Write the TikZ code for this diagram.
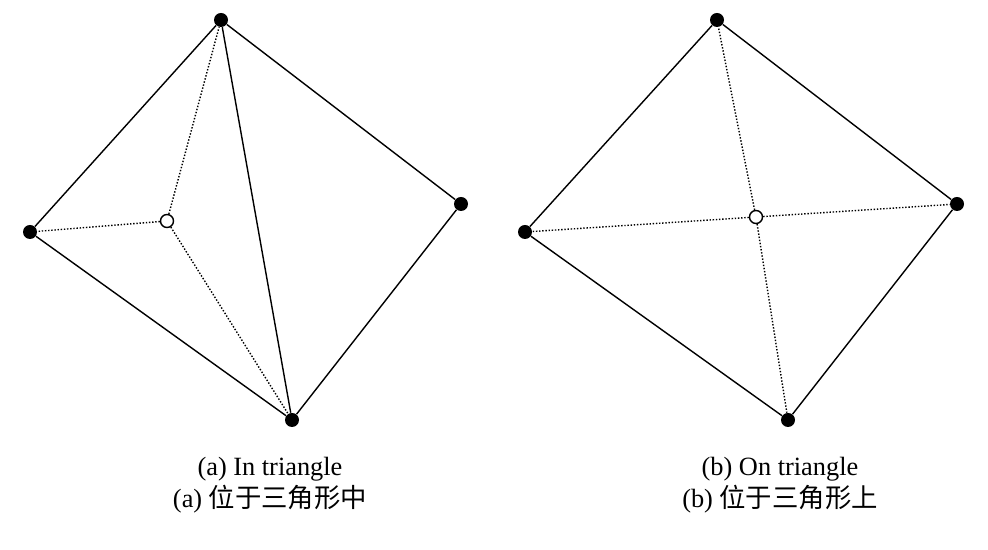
\documentclass[tikz,border=0pt]{standalone}
\usepackage{fontspec}
\setmainfont{Liberation Serif}
\newfontfamily\cjk{Noto Sans CJK SC}
\usetikzlibrary{positioning}
\begin{document}
\begin{tikzpicture}[
		vtx/.style={circle,fill=black,inner sep=0pt,minimum size=2.8mm},
		newvtx/.style={circle,draw=black,fill=white,thick,inner sep=0pt,minimum size=2.6mm},
		edgeline/.style={line width=0.8pt},
		dotline/.style={densely dotted,line width=0.8pt},
		caption/.style={font=\fontsize{15}{18}\selectfont,align=center}
	]
		\useasboundingbox (0,0) rectangle (19.76,11);
		% (a) in triangle
		\node[vtx] (at) at (4.42,10.6) {};
		\node[vtx] (al) at (0.6,6.36) {};
		\node[vtx] (ar) at (9.22,6.92) {};
		\node[vtx] (ab) at (5.84,2.6) {};
		\node[newvtx] (ap) at (3.34,6.58) {};
		\draw[edgeline] (at) -- (al) -- (ab) -- (ar) -- (at) -- (ab);
		\draw[dotline] (ap) -- (at) (ap) -- (al) (ap) -- (ab);
		\node[caption] (acap) at (5.4,1.3) {(a) In triangle\\(a) {\cjk 位于三角形中}};
		% (b) on triangle
		\node[vtx] (bt) at (14.34,10.6) {};
		\node[vtx] (bl) at (10.5,6.36) {};
		\node[vtx] (br) at (19.14,6.92) {};
		\node[vtx] (bb) at (15.76,2.6) {};
		\node[newvtx] (bp) at (15.12,6.66) {};
		\draw[edgeline] (bt) -- (bl) -- (bb) -- (br) -- (bt);
		\draw[dotline] (bp) -- (bt) (bp) -- (bl) (bp) -- (bb) (bp) -- (br);
		\node[caption] (bcap) at (15.6,1.3) {(b) On triangle\\(b) {\cjk 位于三角形上}};
	\end{tikzpicture}
\end{document}
